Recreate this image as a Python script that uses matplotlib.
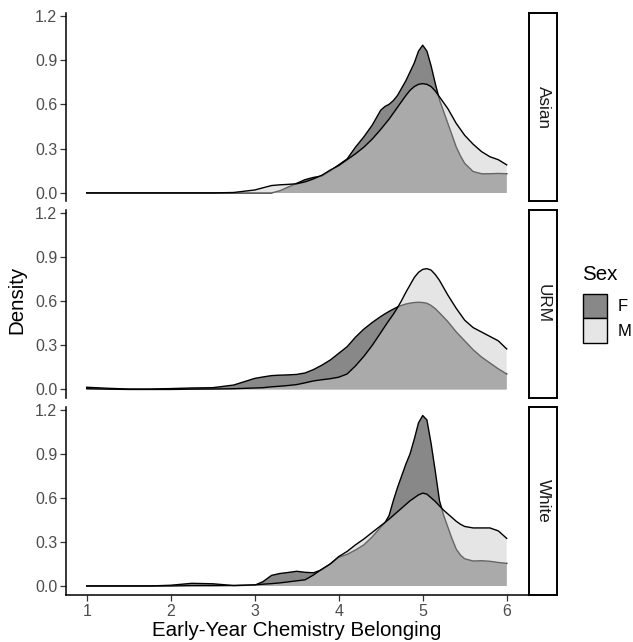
import matplotlib
matplotlib.use("Agg")
import matplotlib.pyplot as plt
from matplotlib.patches import Rectangle

plt.rcParams['font.family'] = ['Liberation Sans', 'DejaVu Sans']

# ---------------- data ----------------
x_vals = [1.0, 1.25, 1.5, 1.75, 2.0, 2.25, 2.5, 2.75,
          3.0, 3.1, 3.2, 3.3, 3.4, 3.5, 3.6, 3.7, 3.8, 3.9,
          4.0, 4.1, 4.2, 4.3, 4.4,
          4.5, 4.55, 4.6, 4.65, 4.7, 4.75, 4.8, 4.85, 4.9, 4.95,
          5.0, 5.05, 5.1, 5.15, 5.2, 5.25, 5.3, 5.35, 5.4, 5.45, 5.5,
          5.6, 5.7, 5.8, 5.9, 6.0]

panels = ["Asian", "URM", "White"]
sexes = ["F", "M"]

asian_f = [0, 0, 0, 0, 0, 0, 0, 0,
           0.0, 0.0, 0.0, 0.015, 0.04, 0.065, 0.09, 0.105, 0.115, 0.15,
           0.19, 0.23, 0.31, 0.38, 0.46,
           0.56, 0.585, 0.60, 0.625, 0.66, 0.71, 0.76, 0.82, 0.88, 0.96,
           1.0, 0.96, 0.86, 0.74, 0.63, 0.55, 0.47, 0.39, 0.31, 0.25, 0.20,
           0.145, 0.13, 0.13, 0.132, 0.13]
asian_m = [0, 0, 0, 0, 0, 0, 0, 0.003,
           0.02, 0.035, 0.05, 0.055, 0.058, 0.062, 0.075, 0.095, 0.12, 0.155,
           0.185, 0.225, 0.265, 0.31, 0.365,
           0.43, 0.465, 0.50, 0.54, 0.58, 0.62, 0.66, 0.695, 0.72, 0.735,
           0.74, 0.735, 0.72, 0.69, 0.65, 0.61, 0.57, 0.52, 0.47, 0.43, 0.39,
           0.33, 0.28, 0.245, 0.225, 0.19]

urm_f = [0.015, 0.008, 0.003, 0.003, 0.006, 0.01, 0.012, 0.03,
         0.075, 0.085, 0.094, 0.097, 0.099, 0.102, 0.112, 0.135, 0.165, 0.20,
         0.245, 0.29, 0.355, 0.41, 0.455,
         0.495, 0.513, 0.53, 0.545, 0.56, 0.571, 0.58, 0.586, 0.59, 0.592,
         0.59, 0.585, 0.57, 0.548, 0.52, 0.49, 0.46, 0.425, 0.39, 0.36, 0.33,
         0.27, 0.22, 0.18, 0.14, 0.105]
urm_m = [0.005, 0.002, 0, 0, 0, 0.002, 0.003, 0.005,
         0.01, 0.012, 0.018, 0.022, 0.027, 0.033, 0.045, 0.058, 0.066, 0.073,
         0.083, 0.105, 0.16, 0.225, 0.30,
         0.385, 0.428, 0.47, 0.51, 0.555, 0.605, 0.66, 0.71, 0.76, 0.795,
         0.815, 0.82, 0.81, 0.78, 0.74, 0.69, 0.64, 0.595, 0.55, 0.51, 0.47,
         0.42, 0.39, 0.36, 0.33, 0.275]

white_f = [0, 0, 0, 0, 0.005, 0.018, 0.015, 0.003,
           0.005, 0.03, 0.072, 0.085, 0.092, 0.10, 0.093, 0.09, 0.11, 0.15,
           0.195, 0.215, 0.245, 0.28, 0.335,
           0.40, 0.43, 0.48, 0.58, 0.67, 0.75, 0.83, 0.90, 1.0, 1.11,
           1.16, 1.13, 0.97, 0.78, 0.58, 0.48, 0.40, 0.32, 0.25, 0.21, 0.185,
           0.17, 0.172, 0.168, 0.16, 0.154]
white_m = [0, 0, 0, 0, 0, 0.002, 0.002, 0.003,
           0.008, 0.012, 0.016, 0.021, 0.028, 0.035, 0.042, 0.075, 0.115, 0.15,
           0.20, 0.235, 0.28, 0.32, 0.365,
           0.41, 0.432, 0.455, 0.48, 0.505, 0.53, 0.555, 0.58, 0.60, 0.62,
           0.632, 0.625, 0.60, 0.575, 0.545, 0.515, 0.49, 0.465, 0.44, 0.42, 0.405,
           0.395, 0.395, 0.395, 0.375, 0.324]

series = {
    "Asian": {"F": asian_f, "M": asian_m},
    "URM": {"F": urm_f, "M": urm_m},
    "White": {"F": white_f, "M": white_m},
}

y_ticks = [0.0, 0.3, 0.6, 0.9, 1.2]
y_ticklabels = ["0.0", "0.3", "0.6", "0.9", "1.2"]
x_ticks = [1, 2, 3, 4, 5, 6]
x_ticklabels = ["1", "2", "3", "4", "5", "6"]

# ---------------- styling ----------------
W, H = 633, 642
fig = plt.figure(figsize=(W / 100, H / 100), dpi=100)

def fx(px):
    return px / W

def fy(py):
    return 1 - py / H

left_px, right_px = 65.7, 527.7
panel_px = [(13, 201.5), (210, 398), (407, 594.5)]
strip_l, strip_r = 529, 557

fill_f = "#888888"
fill_m = "#cccccc"
tick_col = "#4d4d4d"

for i, name in enumerate(panels):
    top, bot = panel_px[i]
    ax = fig.add_axes([fx(left_px), fy(bot), fx(right_px - left_px), (bot - top) / H])
    yf = series[name]["F"]
    ym = series[name]["M"]
    ax.fill_between(x_vals, 0, yf, facecolor=fill_f, edgecolor="none", zorder=1)
    ax.plot(x_vals, yf, color="black", lw=1.0, zorder=2, solid_joinstyle="round")
    ax.fill_between(x_vals, 0, ym, facecolor=fill_m, alpha=0.5, edgecolor="none", zorder=3)
    ax.plot(x_vals, ym, color="black", lw=1.0, zorder=4, solid_joinstyle="round")
    ax.set_xlim(0.75, 6.25)
    ax.set_ylim(-0.058, 1.218)
    ax.set_yticks(y_ticks)
    ax.set_yticklabels(y_ticklabels)
    for s in ["top", "right"]:
        ax.spines[s].set_visible(False)
    ax.spines["left"].set_linewidth(1.1)
    ax.tick_params(axis="y", length=4, width=0.9, color="#333333",
                   labelsize=11.5, labelcolor=tick_col, pad=2)
    if i < 2:
        ax.spines["bottom"].set_visible(False)
        ax.set_xticks([])
    else:
        ax.spines["bottom"].set_linewidth(1.1)
        ax.set_xticks(x_ticks)
        ax.set_xticklabels(x_ticklabels)
        ax.tick_params(axis="x", length=4, width=0.9, color="#333333",
                       labelsize=11.5, labelcolor=tick_col, pad=3)
        ax.set_xlabel("Early-Year Chemistry Belonging", fontsize=14.8, labelpad=1, color="black")
    ax.set_facecolor("white")

    # strip
    sax = fig.add_axes([fx(strip_l), fy(bot), fx(strip_r - strip_l), (bot - top) / H])
    sax.set_xticks([])
    sax.set_yticks([])
    for s in sax.spines.values():
        s.set_linewidth(1.4)
        s.set_color("black")
    sax.text(0.5, 0.5, name, rotation=-90, ha="center", va="center",
             fontsize=12.3, color="#1a1a1a", transform=sax.transAxes)

fig.text(fx(17), fy(300), "Density", rotation=90, ha="center", va="center", fontsize=14.8)

# legend
fig.text(fx(582), fy(274.5), "Sex", ha="left", va="center", fontsize=14.8)
fig.patches.append(Rectangle((fx(583), fy(318.3)), fx(24), 24 / H, transform=fig.transFigure,
                             facecolor=fill_f, edgecolor="black", lw=1.0))
fig.patches.append(Rectangle((fx(583), fy(343.3)), fx(24), 25 / H, transform=fig.transFigure,
                             facecolor="#e6e6e6", edgecolor="black", lw=1.0))
fig.text(fx(618), fy(306.5), "F", ha="left", va="center", fontsize=12)
fig.text(fx(618), fy(331.5), "M", ha="left", va="center", fontsize=12)

fig.savefig("out.png", dpi=100, facecolor="white")
